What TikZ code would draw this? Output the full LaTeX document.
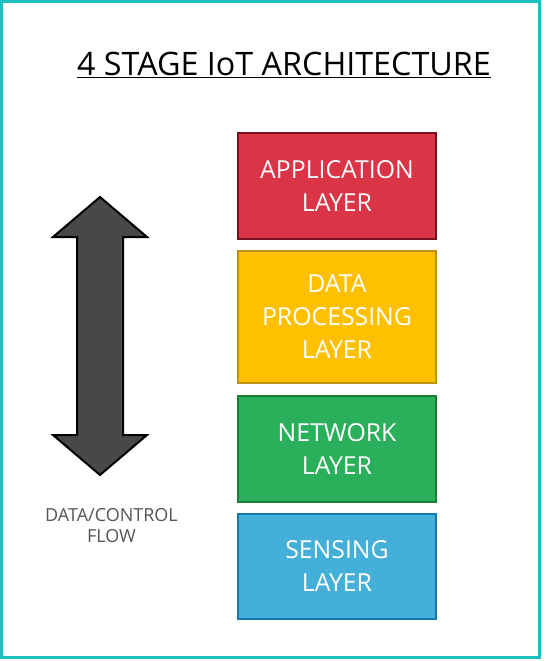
\documentclass[tikz,border=0pt]{standalone}
\usepackage{fontspec}
\setmainfont{Open Sans}
\begin{document}
\begin{tikzpicture}[x=1pt,y=-1pt,
  layer/.style={draw, line width=2pt, minimum width=198pt, align=center, text=white, font=\fontsize{24.8}{33}\selectfont, inner sep=0pt, anchor=north west},
  ]
\useasboundingbox (0,0) rectangle (545,661);
\fill[white] (0,0) rectangle (545,661);
\draw[color={rgb,255:red,28;green,190;blue,190}, line width=3pt] (1.5,1.5) rectangle (539,657);
\node[font=\fontsize{32.3}{38}\selectfont, anchor=base] (title) at (284,75) {\underline{4 STAGE IoT ARCHITECTURE}};
\node[layer, fill={rgb,255:red,219;green,52;blue,70}, draw={rgb,255:red,120;green,16;blue,32}, minimum height=106pt] (app) at (237,132) {APPLICATION\\LAYER};
\node[layer, fill={rgb,255:red,255;green,192;blue,0}, draw={rgb,255:red,190;green,145;blue,20}, minimum height=132pt] (data) at (237,250) {DATA\\PROCESSING\\LAYER};
\node[layer, fill={rgb,255:red,42;green,176;blue,90}, draw={rgb,255:red,25;green,125;blue,55}, minimum height=106pt] (net) at (237,395) {NETWORK\\LAYER};
\node[layer, fill={rgb,255:red,68;green,176;blue,218}, draw={rgb,255:red,20;green,120;blue,175}, minimum height=105pt] (sens) at (237,513) {SENSING\\LAYER};
\draw[line width=2pt, fill={rgb,255:red,72;green,72;blue,72}, line join=miter]
  (100,197) -- (147,237) -- (123,237) -- (123,435) -- (147,435) -- (100,475) -- (53,435) -- (77,435) -- (77,237) -- (53,237) -- cycle;
\node[font=\fontsize{18}{21.5}\selectfont, text={rgb,255:red,85;green,85;blue,85}, align=center] (flow) at (111.5,525.5) {DATA/CONTROL\\FLOW};
\end{tikzpicture}
\end{document}
